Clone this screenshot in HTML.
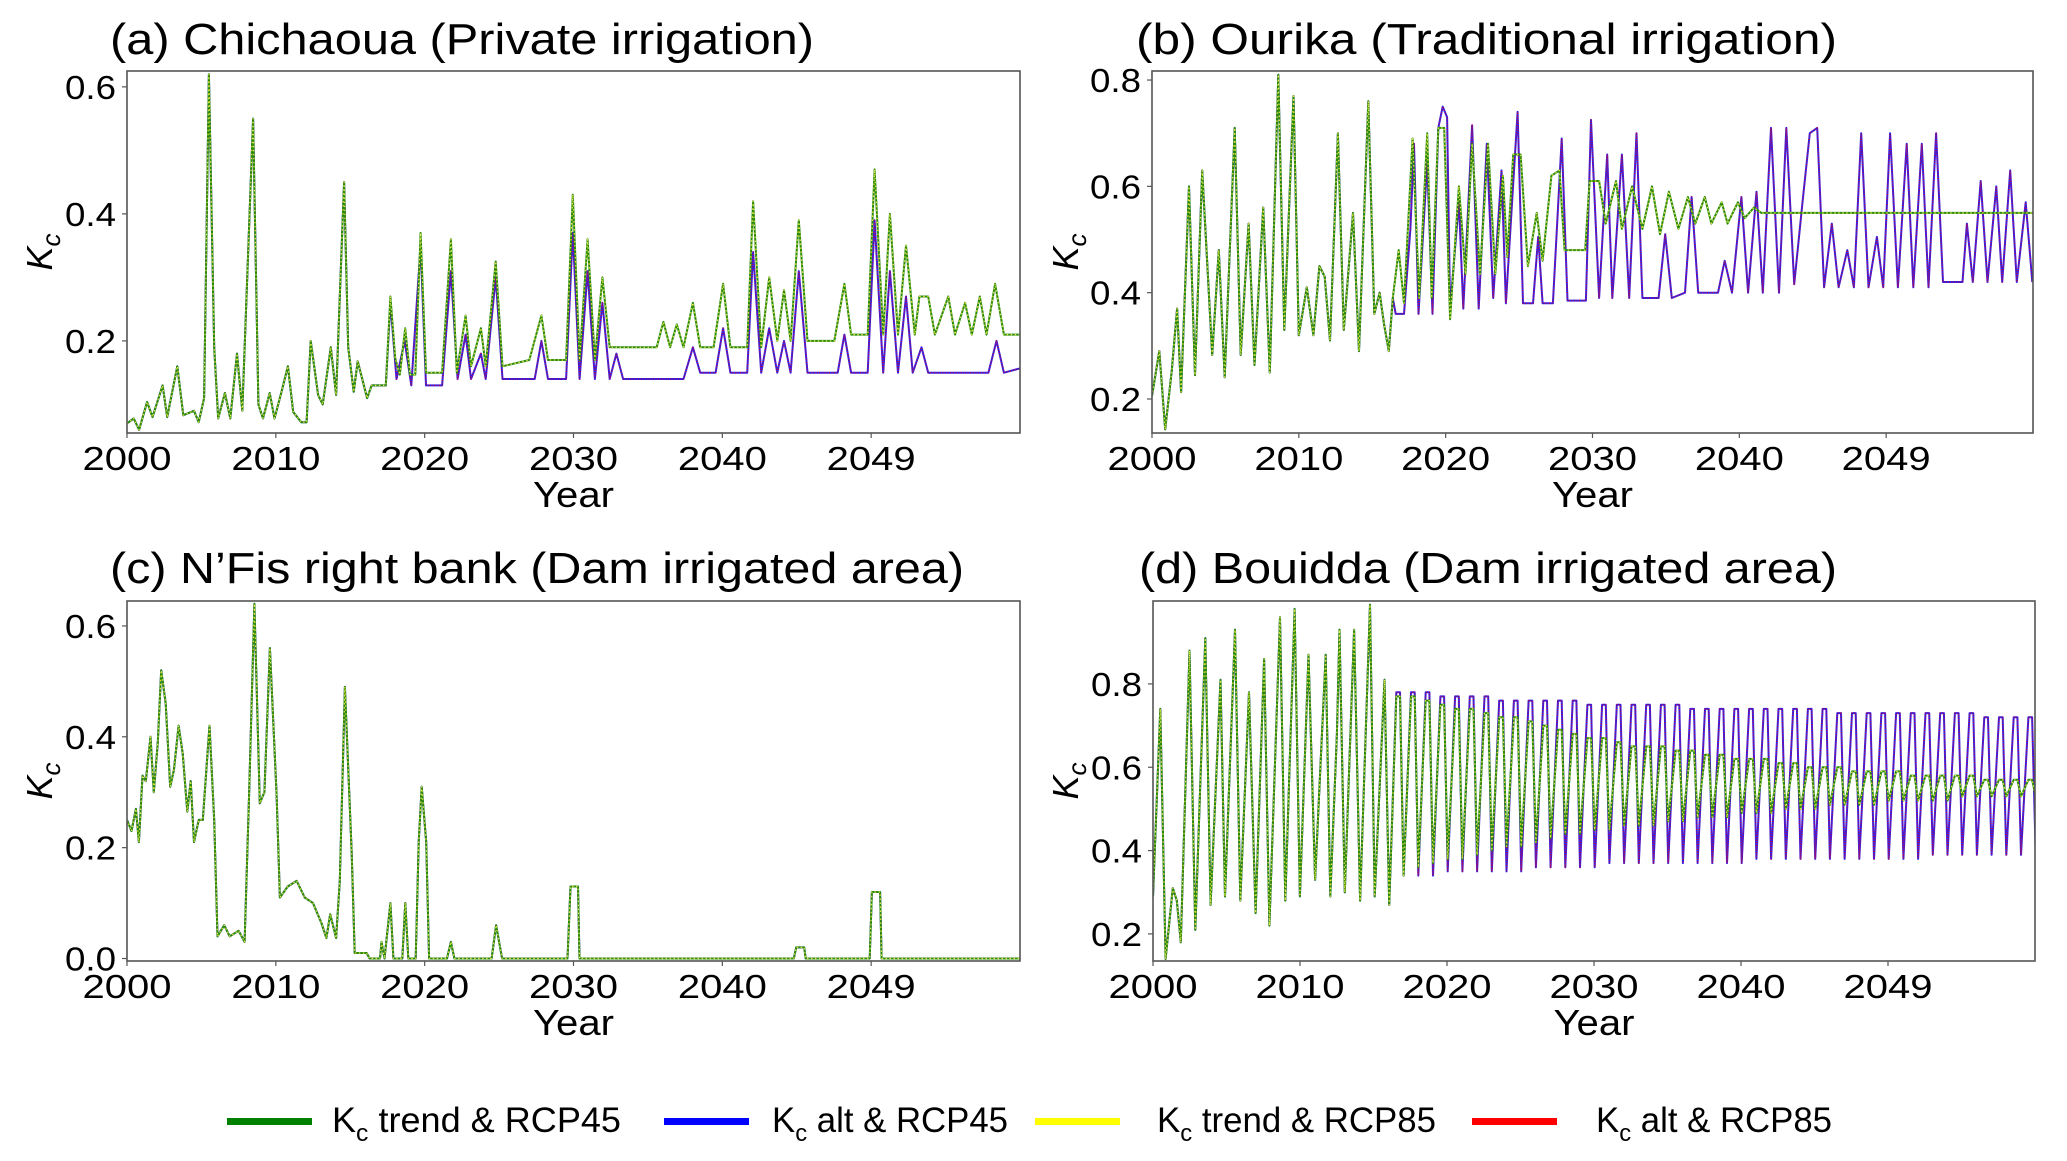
<!DOCTYPE html>
<html><head><meta charset="utf-8"><style>
body{margin:0;background:#fff;}
svg{display:block;font-family:"Liberation Sans",sans-serif;}
</style></head><body>
<svg id="fig" width="2067" height="1161" viewBox="0 0 2067 1161" xmlns="http://www.w3.org/2000/svg">
<rect width="2067" height="1161" fill="#fff"/>
</svg>
<script>
// ---------- DATA (years since 2000, Kc values) ----------
const aHistYears=[0,0.45,0.81,1.35,1.71,2.39,2.70,3.38,3.78,4.50,4.82,5.18,5.50,5.86,6.13,6.58,6.94,7.39,7.75,8.47,8.83,9.14,9.59,9.91,10.36,10.81,11.17,11.71,12.07,12.34,12.84,13.15,13.69,14.05,14.59,14.86,15.23,15.50,16.13,16.44,17.12];
const aHistVals=[0.07,0.078,0.06,0.104,0.08,0.13,0.08,0.16,0.083,0.09,0.072,0.11,0.62,0.19,0.078,0.118,0.078,0.18,0.09,0.55,0.10,0.078,0.118,0.078,0.118,0.16,0.088,0.072,0.072,0.20,0.115,0.10,0.19,0.115,0.45,0.19,0.12,0.168,0.11,0.13,0.13];
const aTrendYears=[17.39,17.70,18.02,18.33,18.69,19.01,19.37,19.73,20.09,21.17,21.76,22.16,22.75,23.11,23.78,24.10,24.77,25.23,27.03,27.84,28.29,29.50,29.95,30.41,30.95,31.44,31.94,32.43,34.68,35.59,36.04,36.49,36.94,37.39,38.02,38.51,39.41,40.05,40.54,41.67,42.07,42.61,43.15,43.69,44.14,44.59,45.14,45.72,47.52,48.20,48.65,49.77,50.23,50.81,51.26,51.80,52.34,52.93,53.24,53.83,54.28,55.18,55.63,56.31,56.76,57.30,57.75,58.33,58.92,60.05];
const aTrendVals=[0.13,0.27,0.173,0.147,0.22,0.147,0.147,0.37,0.15,0.15,0.36,0.15,0.24,0.16,0.22,0.16,0.325,0.16,0.17,0.24,0.17,0.17,0.43,0.17,0.36,0.17,0.30,0.19,0.19,0.19,0.23,0.19,0.226,0.19,0.26,0.19,0.19,0.29,0.19,0.19,0.42,0.19,0.30,0.20,0.28,0.20,0.39,0.20,0.20,0.29,0.21,0.21,0.47,0.21,0.40,0.21,0.35,0.21,0.27,0.27,0.21,0.27,0.21,0.26,0.21,0.27,0.21,0.29,0.21,0.21];
const aAltYears=[17.39,17.70,18.11,18.65,19.10,19.73,20.09,21.17,21.76,22.21,22.75,23.11,23.78,24.10,24.77,25.23,27.39,27.84,28.29,29.50,29.95,30.41,30.95,31.44,31.94,32.43,32.88,33.33,37.39,38.02,38.51,39.55,40.05,40.54,41.67,42.07,42.61,43.15,43.69,44.14,44.59,45.14,45.72,47.75,48.20,48.65,49.77,50.23,50.81,51.26,51.80,52.34,52.79,53.38,53.83,57.88,58.42,58.92,60.05];
const aAltVals=[0.13,0.26,0.14,0.20,0.13,0.35,0.13,0.13,0.31,0.14,0.21,0.14,0.18,0.14,0.30,0.14,0.14,0.20,0.14,0.14,0.37,0.14,0.31,0.14,0.26,0.14,0.18,0.14,0.14,0.19,0.15,0.15,0.22,0.15,0.15,0.34,0.15,0.22,0.15,0.20,0.15,0.31,0.15,0.15,0.21,0.15,0.15,0.39,0.15,0.31,0.15,0.27,0.15,0.19,0.15,0.15,0.20,0.15,0.157];

const bHistYears=[0,0.5,0.9,1.35,1.71,1.98,2.52,2.93,3.42,4.10,4.55,4.95,5.63,6.04,6.58,6.98,7.57,8.02,8.60,9.01,9.64,10.0,10.54,10.99,11.40,11.76,12.12,12.66,13.06,13.69,14.10,14.73,15.14,15.50,15.81,16.13,16.40];
const bHistVals=[0.206,0.29,0.143,0.254,0.37,0.213,0.60,0.245,0.63,0.283,0.48,0.241,0.71,0.283,0.53,0.264,0.56,0.25,0.81,0.33,0.77,0.32,0.41,0.32,0.45,0.43,0.31,0.70,0.33,0.55,0.29,0.76,0.36,0.40,0.34,0.29,0.39];
const bTrendYears=[16.8,17.16,17.75,18.2,18.74,19.05,19.5,19.9,20.3,20.9,21.35,21.8,22.34,22.88,23.38,23.9,24.2,24.6,25.1,25.6,26.2,26.6,27.2,27.75,28.1,29.5,29.8,30.45,30.9,31.6,32.0,32.7,33.4,34.05,34.6,35.2,35.85,36.5,37.0,37.65,38.1,38.8,39.2,39.9,40.36,41.0,41.5,60];
const bTrendVals=[0.48,0.38,0.69,0.39,0.70,0.39,0.71,0.71,0.35,0.60,0.435,0.68,0.435,0.68,0.435,0.62,0.467,0.66,0.66,0.45,0.55,0.46,0.62,0.63,0.48,0.48,0.61,0.61,0.53,0.61,0.52,0.60,0.52,0.60,0.51,0.59,0.52,0.58,0.53,0.58,0.53,0.57,0.53,0.57,0.54,0.56,0.55,0.55];
const bAltYears=[16.6,17.16,17.6,17.84,18.15,18.74,19.1,19.5,19.8,20.1,20.3,20.9,21.2,21.8,22.25,22.8,23.24,23.8,24.1,24.9,25.27,25.95,26.3,26.6,27.3,27.9,28.3,29.55,29.9,30.45,31.0,31.35,32.0,32.5,33.0,33.4,34.5,34.95,35.4,36.3,36.75,37.2,38.55,39.0,39.5,40.14,40.6,41.17,41.6,42.16,42.7,43.2,43.74,44.3,44.8,45.3,45.77,46.3,46.76,47.35,47.8,48.3,48.8,49.37,49.8,50.27,50.8,51.4,51.85,52.43,52.88,53.4,53.87,55.2,55.5,55.9,56.44,56.9,57.5,57.9,58.45,58.9,59.5,59.95];
const bAltVals=[0.36,0.36,0.52,0.68,0.36,0.645,0.36,0.71,0.75,0.73,0.37,0.57,0.37,0.715,0.37,0.68,0.39,0.63,0.38,0.74,0.38,0.38,0.505,0.38,0.38,0.69,0.385,0.385,0.725,0.39,0.66,0.39,0.66,0.39,0.70,0.39,0.39,0.51,0.39,0.40,0.58,0.40,0.40,0.46,0.40,0.58,0.40,0.59,0.40,0.71,0.40,0.71,0.416,0.57,0.70,0.71,0.41,0.53,0.41,0.48,0.41,0.70,0.41,0.505,0.41,0.70,0.41,0.68,0.41,0.68,0.41,0.70,0.42,0.42,0.53,0.42,0.61,0.42,0.60,0.42,0.63,0.42,0.57,0.42];

const cYears=[0,0.3,0.6,0.8,1.04,1.26,1.58,1.8,2.07,2.3,2.6,2.9,3.15,3.47,3.74,4.05,4.28,4.5,4.82,5.09,5.54,5.86,6.08,6.53,6.9,7.5,7.9,8.2,8.56,8.92,9.23,9.6,10.05,10.27,10.8,11.4,11.94,12.5,13.06,13.4,13.65,14.05,14.3,14.64,15.1,15.3,16.1,16.3,17,17.1,17.3,17.7,17.9,18.5,18.7,18.9,19.4,19.6,19.8,20.1,20.3,21.5,21.76,22,24.5,24.8,25.2,29.6,29.8,30.3,30.4,44.8,44.96,45.5,45.6,49.9,50.05,50.6,50.7,60.05];
const cVals=[0.25,0.23,0.27,0.21,0.33,0.32,0.40,0.30,0.39,0.52,0.46,0.31,0.34,0.42,0.37,0.265,0.32,0.21,0.25,0.25,0.42,0.25,0.04,0.06,0.04,0.05,0.03,0.29,0.64,0.28,0.30,0.56,0.295,0.11,0.13,0.14,0.11,0.10,0.064,0.037,0.08,0.037,0.14,0.49,0.19,0.01,0.01,0,0,0.03,0,0.10,0,0,0.10,0,0,0.21,0.31,0.21,0,0,0.03,0,0,0.06,0,0,0.13,0.13,0,0,0.02,0.02,0,0,0.12,0.12,0,0];

const dHistYears=[0,0.5,0.86,1.35,1.62,1.89,2.48,2.88,3.56,3.92,4.59,4.9,5.58,5.94,6.53,6.98,7.56,7.92,8.64,9.0,9.63,9.99,10.58,11.03,11.75,12.06,12.51,12.69,13.05,13.68,14.09,14.76,15.08,15.75,16.07,16.29];
const dHistVals=[0.29,0.74,0.14,0.31,0.28,0.18,0.88,0.21,0.91,0.27,0.81,0.29,0.93,0.28,0.78,0.25,0.86,0.22,0.96,0.28,0.98,0.29,0.87,0.33,0.87,0.29,0.68,0.93,0.30,0.93,0.28,0.99,0.29,0.81,0.27,0.50];
const dCycleYears=[16,17,18,19,20,21,22,23,24,25,26,27,28,29,30,31,32,33,34,35,36,37,38,39,40,41,42,43,44,45,46,47,48,49,50,51,52,53,54,55,56,57,58,59];
const dTrendPeaks=[0.77,0.77,0.76,0.75,0.74,0.74,0.73,0.72,0.72,0.71,0.70,0.69,0.68,0.67,0.67,0.66,0.65,0.65,0.65,0.64,0.64,0.63,0.63,0.62,0.62,0.62,0.61,0.61,0.60,0.60,0.60,0.59,0.59,0.59,0.59,0.58,0.58,0.58,0.58,0.58,0.57,0.57,0.57,0.57];
const dTrendTroughs=[0.34,0.36,0.37,0.38,0.38,0.39,0.40,0.41,0.41,0.42,0.43,0.44,0.44,0.45,0.45,0.46,0.46,0.46,0.47,0.47,0.48,0.48,0.48,0.49,0.49,0.49,0.50,0.50,0.50,0.51,0.51,0.51,0.51,0.52,0.52,0.52,0.52,0.52,0.53,0.53,0.53,0.53,0.53,0.53];
const dAltPeaks=[0.78,0.78,0.78,0.77,0.77,0.77,0.77,0.76,0.76,0.76,0.76,0.76,0.76,0.75,0.75,0.75,0.75,0.75,0.75,0.75,0.74,0.74,0.74,0.74,0.74,0.74,0.74,0.74,0.74,0.74,0.73,0.73,0.73,0.73,0.73,0.73,0.73,0.73,0.73,0.73,0.72,0.72,0.72,0.72];
const dAltTroughs=[0.34,0.34,0.34,0.35,0.35,0.35,0.35,0.35,0.35,0.36,0.36,0.36,0.36,0.36,0.37,0.37,0.37,0.37,0.37,0.37,0.37,0.37,0.37,0.37,0.38,0.38,0.38,0.38,0.38,0.38,0.38,0.38,0.38,0.38,0.38,0.38,0.39,0.39,0.39,0.39,0.39,0.39,0.39,0.39];

const xTickYears=[0,10,20,30,40,50];
const xTickLabels=["2000","2010","2020","2030","2040","2049"];

// ---------- DRAWING ----------
const NS="http://www.w3.org/2000/svg";
const svg=document.getElementById('fig');
function mk(tag,attrs,parent){const e=document.createElementNS(NS,tag);for(const k in attrs)e.setAttribute(k,attrs[k]);(parent||svg).appendChild(e);return e;}

function cyclePoints(hy,hv,cy,peaks,troughs){
  const xs=hy.slice(),ys=hv.slice();
  for(let i=0;i<cy.length;i++){
    const y=cy[i];
    if(i>0){xs.push(y+0.05);ys.push(troughs[i-1]);}
    xs.push(y+0.55);ys.push(peaks[i]);
    xs.push(y+0.8);ys.push(peaks[i]);
    xs.push(y+1.05);ys.push(troughs[i]);
  }
  return [xs,ys];
}

const panels=[
 {id:'a',title:'(a) Chichaoua (Private irrigation)',tx:110,ty:54,tw:704,L:127,R:1020,T:71,B:433,ymin:0.055,ymax:0.625,yt:[0.2,0.4,0.6],ylx:40},
 {id:'b',title:'(b) Ourika (Traditional irrigation)',tx:1136,ty:54,tw:701,L:1152,R:2033,T:71,B:433,ymin:0.136,ymax:0.817,yt:[0.2,0.4,0.6,0.8],ylx:1066},
 {id:'c',title:'(c) N\u2019Fis right bank (Dam irrigated area)',tx:110,ty:583,tw:854,L:127,R:1020,T:601,B:961,ymin:-0.0045,ymax:0.645,yt:[0.0,0.2,0.4,0.6],ylx:40},
 {id:'d',title:'(d) Bouidda (Dam irrigated area)',tx:1139,ty:583,tw:698,L:1153,R:2035,T:601,B:961,ymin:0.135,ymax:0.999,yt:[0.2,0.4,0.6,0.8],ylx:1066}
];

const series={
 a:{trend:[aHistYears.concat(aTrendYears),aHistVals.concat(aTrendVals)],alt:[aHistYears.concat(aAltYears),aHistVals.concat(aAltVals)]},
 b:{trend:[bHistYears.concat(bTrendYears),bHistVals.concat(bTrendVals)],alt:[bHistYears.concat(bAltYears),bHistVals.concat(bAltVals)]},
 c:{trend:[cYears,cVals],alt:[cYears,cVals]},
 d:{trend:cyclePoints(dHistYears,dHistVals,dCycleYears,dTrendPeaks,dTrendTroughs),alt:cyclePoints(dHistYears,dHistVals,dCycleYears,dAltPeaks,dAltTroughs)}
};

panels.forEach(p=>{
  const g=mk('g',{});
  
  
  const X=t=>p.L+t/60*(p.R-p.L);
  const Y=v=>p.B-(v-p.ymin)/(p.ymax-p.ymin)*(p.B-p.T);
  const t=mk('text',{x:p.tx,y:p.ty,'font-size':44,textLength:p.tw,lengthAdjust:'spacingAndGlyphs',fill:'#000'},g);
  t.textContent=p.title;
  
  
  const cp=mk('clipPath',{id:'clip'+p.id},g);
  mk('rect',{x:p.L,y:p.T,width:p.R-p.L,height:p.B-p.T},cp);
  const s=series[p.id];
  const path=(xs,ys)=>xs.map((x,i)=>(i?'L':'M')+X(x).toFixed(1)+','+Y(ys[i]).toFixed(1)).join('');
  const dAlt=path(s.alt[0],s.alt[1]), dTr=path(s.trend[0],s.trend[1]);
  const cg=mk('g',{'clip-path':'url(#clip'+p.id+')',fill:'none','stroke-linejoin':'round'},g);
  const l1=mk('path',{d:dAlt,stroke:'#2a20f0','stroke-width':2},cg);
  
  
  const l2=mk('path',{d:dAlt,stroke:'#ff0000','stroke-width':1.6,'stroke-dasharray':'1,1.5',opacity:0.6},cg);
  
  
  const l3=mk('path',{d:dTr,stroke:'#2a8a10','stroke-width':2},cg);
  
  
  const l4=mk('path',{d:dTr,stroke:'#e8e840','stroke-width':1.2,'stroke-dasharray':'1.5,2.5'},cg);
  
  
  const fr=mk('rect',{x:p.L,y:p.T,width:p.R-p.L,height:p.B-p.T,fill:'none',stroke:'#555','stroke-width':1.6},g);
  
  
  xTickYears.forEach((yr,i)=>{
    const x=X(yr);
    mk('line',{x1:x,x2:x,y1:p.B,y2:p.B+5,stroke:'#555','stroke-width':1.2},g);
    const tl=mk('text',{x:x,y:p.B+37,'font-size':33,'text-anchor':'middle',textLength:89,lengthAdjust:'spacingAndGlyphs'},g);
    tl.textContent=xTickLabels[i];
    
    
  });
  p.yt.forEach(v=>{
    const y=Y(v);
    mk('line',{x1:p.L-5,x2:p.L,y1:y,y2:y,stroke:'#555','stroke-width':1.2},g);
    const tl=mk('text',{x:p.L-11,y:y+12,'font-size':33,'text-anchor':'end',textLength:51,lengthAdjust:'spacingAndGlyphs'},g);
    tl.textContent=v.toFixed(1);
    
    
  });
  const xl=mk('text',{x:(p.L+p.R)/2,y:p.B+74,'font-size':36,'text-anchor':'middle',textLength:81,lengthAdjust:'spacingAndGlyphs'},g);
  xl.textContent='Year';
  
  
  const cy=(p.T+p.B)/2;
  const yl=mk('text',{x:0,y:0,'font-size':36,'font-style':'italic','text-anchor':'middle',transform:'translate('+(p.ylx+12)+','+cy+') rotate(-90)'},g);
  yl.innerHTML='K<tspan font-size="26" dy="8">c</tspan>';
  
  
});

const legColors=['#008000','#0000ff','#ffff00','#ff0000'];
const legText=[' trend & RCP45',' alt & RCP45',' trend & RCP85',' alt & RCP85'];
const legLineX=[227,664,1035,1472];
const legTextX=[332,772,1157,1596];
const legTextW=[289,236,279,236];
const lg=mk('g',{});


legColors.forEach((c,i)=>{
  const e=mk('g',{},lg);
  
  
  mk('rect',{x:legLineX[i],y:1118,width:85,height:7,fill:c},e);
  const t=mk('text',{x:legTextX[i],y:1132,'font-size':35,textLength:legTextW[i],lengthAdjust:'spacingAndGlyphs'},e);
  t.innerHTML='K<tspan font-size="24" dy="9">c</tspan><tspan dy="-9">'+legText[i].replace('&','&amp;')+'</tspan>';
});
</script>
</body></html>
